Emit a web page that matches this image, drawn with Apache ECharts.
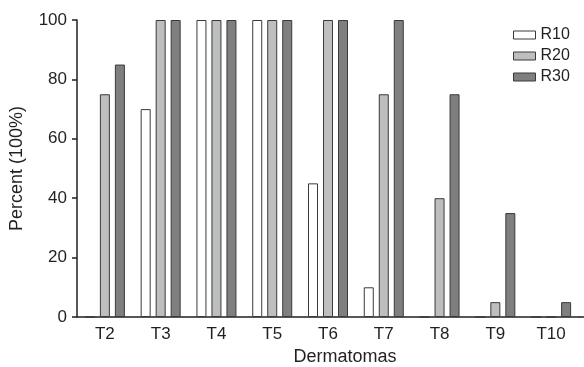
<!DOCTYPE html>
<html>
<head>
<meta charset="utf-8">
<script src="https://cdn.jsdelivr.net/npm/echarts@6/dist/echarts.min.js"></script>
<style>html,body{margin:0;padding:0;background:#fff}#c{width:584px;height:367px}</style>
</head>
<body>
<div id="c"></div>
<script>
const categories = ['T2','T3','T4','T5','T6','T7','T8','T9','T10'];
const seriesNames = ['R10','R20','R30'];
const r10 = [0, 70, 100, 100, 45, 10, 0, 0, 0];
const r20 = [75, 100, 100, 100, 100, 75, 40, 5, 0];
const r30 = [85, 100, 100, 100, 100, 100, 75, 35, 5];
const yTicks = [0, 20, 40, 60, 80, 100];

const font = 'Liberation Sans, Arial, Helvetica, sans-serif';
const ink = '#231f20';
const fills = ['#ffffff', '#bdbec0', '#7f7f7f'];
const values = [r10, r20, r30];

const chart = echarts.init(document.getElementById('c'), null, {renderer: 'canvas'});
chart.setOption({
  animation: false,
  backgroundColor: '#ffffff',
  textStyle: {fontFamily: font, color: ink},
  grid: {left: 77, right: 5, top: 20, bottom: 50, containLabel: false, outerBoundsMode: 'none'},
  legend: {
    orient: 'vertical', left: 508, top: 22,
    itemWidth: 22, itemHeight: 8, itemGap: 5,
    icon: 'rect',
    itemStyle: {borderWidth: 1},
    textStyle: {fontFamily: font, fontSize: 16, color: ink},
    data: seriesNames
  },
  graphic: [{
    type: 'line', z: 10,
    shape: {x1: 579, y1: 317, x2: 584, y2: 317},
    style: {stroke: ink, lineWidth: 1.5}
  }],
  xAxis: {
    type: 'category', data: categories,
    axisLine: {lineStyle: {color: ink, width: 1.5}},
    axisTick: {alignWithLabel: true, length: 5, lineStyle: {color: ink, width: 1.5}},
    axisLabel: {fontFamily: font, fontSize: 17, color: ink, margin: 9},
    name: 'Dermatomas', nameLocation: 'middle', nameGap: 27,
    nameTextStyle: {fontFamily: font, fontSize: 18, color: ink, padding: [0,0,0,34]}
  },
  yAxis: {
    type: 'value', min: yTicks[0], max: yTicks[yTicks.length-1], interval: 20,
    splitLine: {show: false},
    axisLine: {show: true, lineStyle: {color: ink, width: 1.5}},
    axisTick: {show: true, length: 5, lineStyle: {color: ink, width: 1.5}},
    axisLabel: {fontFamily: font, fontSize: 17, color: ink, margin: 10},
    name: 'Percent (100%)', nameLocation: 'middle', nameGap: 51,
    nameTextStyle: {fontFamily: font, fontSize: 18, color: ink}
  },
  series: seriesNames.map((n, i) => ({
    name: n, type: 'bar', data: values[i],
    barWidth: 10, barGap: '50%',
    itemStyle: {color: fills[i], borderColor: '#3a3a3a', borderWidth: 1}
  }))
});
</script>
</body>
</html>
